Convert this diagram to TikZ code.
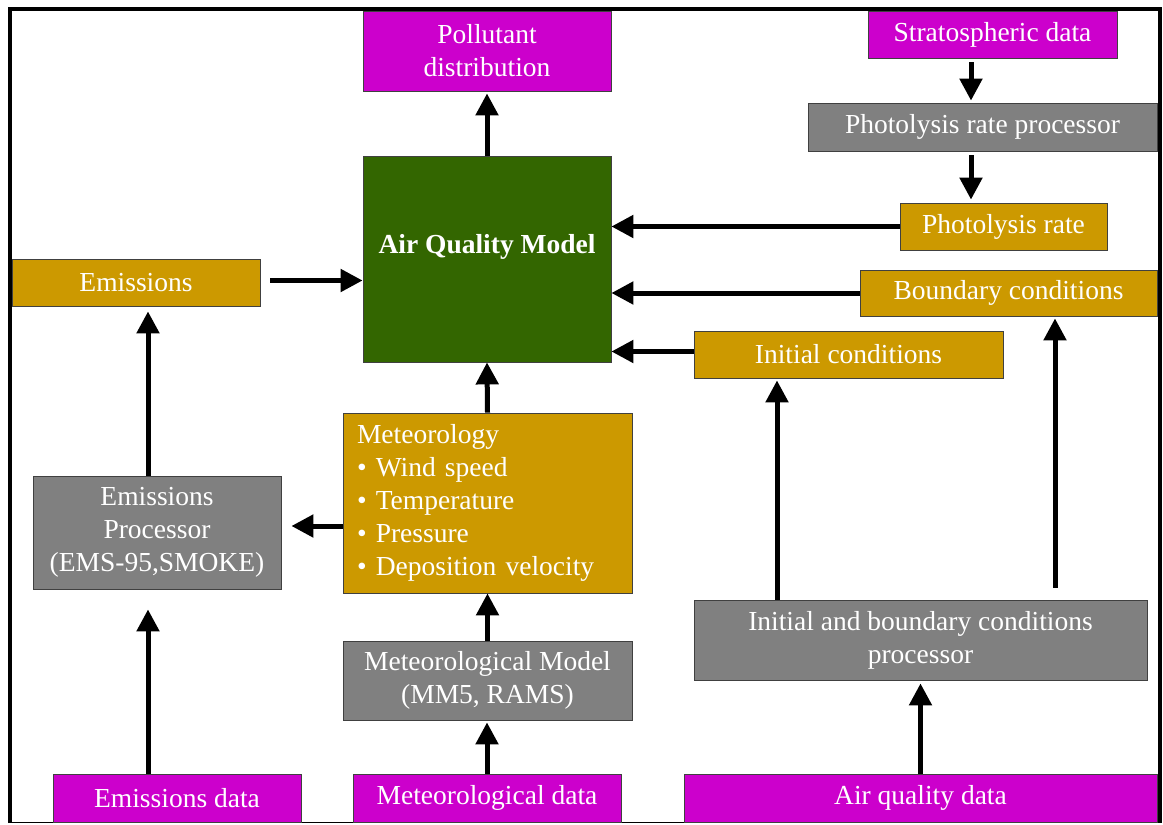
\documentclass[tikz,border=0pt]{standalone}
\usepackage{fontspec}
\setmainfont{Liberation Serif}
\usepackage{xcolor}
\usepackage{tikz}
\usetikzlibrary{arrows.meta}
\definecolor{magbox}{HTML}{CC00CC}
\definecolor{goldbox}{HTML}{CC9900}
\definecolor{graybox}{HTML}{808080}
\definecolor{greenbox}{HTML}{336600}

\begin{document}
\begin{tikzpicture}[x=1pt, y=-1pt,
		box/.style 2 args={
			rectangle,
			draw=black!75,
			line width=0.8pt,
			fill=#1,
			text=white,
			inner sep=0pt,
			align=center,
			minimum width=#2},
		flow/.style={line width=5pt, -{Triangle[length=22pt,width=22pt]}},
		font=\fontsize{27.5}{33}\selectfont
		]
		\useasboundingbox (0,0) rectangle (1163,825);
		\draw[line width=4pt] (10,823) -- (10,8.5) -- (1159.5,8.5) -- (1159.5,823);
		\draw[line width=1.5pt] (10,822.5) -- (1159.5,822.5);
		\node[box={magbox}{248pt}, minimum height=80pt] (pol) at (487, 51) {Pollutant\\distribution};
		\node[box={magbox}{249pt}, minimum height=47pt] (strat) at (992.5, 34.5) {Stratospheric data};
		\node[box={graybox}{349pt}, minimum height=48pt] (photp) at (982.5, 127) {Photolysis rate processor};
		\node[box={goldbox}{207pt}, minimum height=47pt] (photr) at (1003.5, 226.5) {Photolysis rate};
		\node[box={goldbox}{297pt}, minimum height=46pt] (bound) at (1008.5, 293) {Boundary conditions};
		\node[box={goldbox}{309pt}, minimum height=47pt] (init) at (848.5, 354.5) {Initial conditions};
		\node[box={greenbox}{248pt}, minimum height=206pt, text depth=30pt, font=\fontsize{27.5}{33}\selectfont\bfseries] (aqm) at (487, 259) {Air Quality Model};
		\node[box={goldbox}{248pt}, minimum height=47pt] (emis) at (136, 282.5) {Emissions};
		\node[box={goldbox}{289pt}, minimum height=180pt, align=left, text width=261pt, inner xsep=14pt] (met) at (487.5, 503) {Meteorology\\• Wind speed\\• Temperature\\• Pressure\\• Deposition velocity};
		\node[box={graybox}{248pt}, minimum height=113pt] (emproc) at (157, 532.5) {Emissions\\Processor\\(EMS-95,SMOKE)};
		\node[box={graybox}{289pt}, minimum height=79pt] (metmod) at (487.5, 680.5) {Meteorological Model\\(MM5, RAMS)};
		\node[box={graybox}{453pt}, minimum height=80pt] (ibcp) at (920.5, 640) {Initial and boundary conditions\\processor};
		\node[box={magbox}{248pt}, minimum height=48pt] (emdata) at (177, 798) {Emissions data};
		\node[box={magbox}{268pt}, minimum height=48pt] (metdata) at (487, 798) {Meteorological data};
		\node[box={magbox}{473pt}, minimum height=48pt] (aqdata) at (920.5, 798) {Air quality data};
		% arrow ends off the box centres
		\coordinate (initout) at ([yshift=3pt]init.west);
		\coordinate (emisout) at ([yshift=2pt]emis.east);
		\coordinate (metout) at ([yshift=-23pt]met.west);
		\coordinate (stratout) at ([xshift=-21.5pt]strat.south);
		\coordinate (photpout) at ([xshift=-11.5pt]photp.south);
		\coordinate (emprocout) at ([xshift=-9pt]emproc.north);
		\coordinate (emdataout) at ([xshift=-29pt]emdata.north);
		\coordinate (ibcpinit) at ([xshift=-143.5pt]ibcp.north);
		\coordinate (ibcpbound) at ([xshift=134.5pt]ibcp.north);
		% arrows into the model
		\draw[flow, shorten >=2pt] (aqm.north) to (pol.south);
		\draw[flow, shorten <=4pt, shorten >=2pt] (stratout) to (stratout |- photp.north);
		\draw[flow, shorten <=4pt, shorten >=3pt] (photpout) to (photpout |- photr.north);
		\draw[flow] (photr.west) to (aqm.east |- photr.west);
		\draw[flow] (bound.west) to (aqm.east |- bound.west);
		\draw[flow] (initout) to (aqm.east |- initout);
		\draw[flow, shorten <=10pt] (emisout) to (aqm.west |- emisout);
		\draw[flow, shorten >=5pt] (emprocout) to (emprocout |- emis.south);
		\draw[flow] (met.north) to (aqm.south);
		\draw[flow, shorten >=10pt] (metout) to (emproc.east |- metout);
		\draw[flow] (metmod.north) to (met.south);
		\draw[flow, shorten >=2pt] (metdata.north) to (metdata.north |- metmod.south);
		% data feeding the processors
		\draw[flow, shorten >=20pt] (emdataout) to (emdataout |- emproc.south);
		\draw[flow, shorten >=3pt] (aqdata.north) to (ibcp.south);
		\draw[flow, shorten >=2pt] (ibcpinit) to (ibcpinit |- init.south);
		\draw[flow, shorten <=12pt, shorten >=2pt] (ibcpbound) to (ibcpbound |- bound.south);
		\end{tikzpicture}
\end{document}
